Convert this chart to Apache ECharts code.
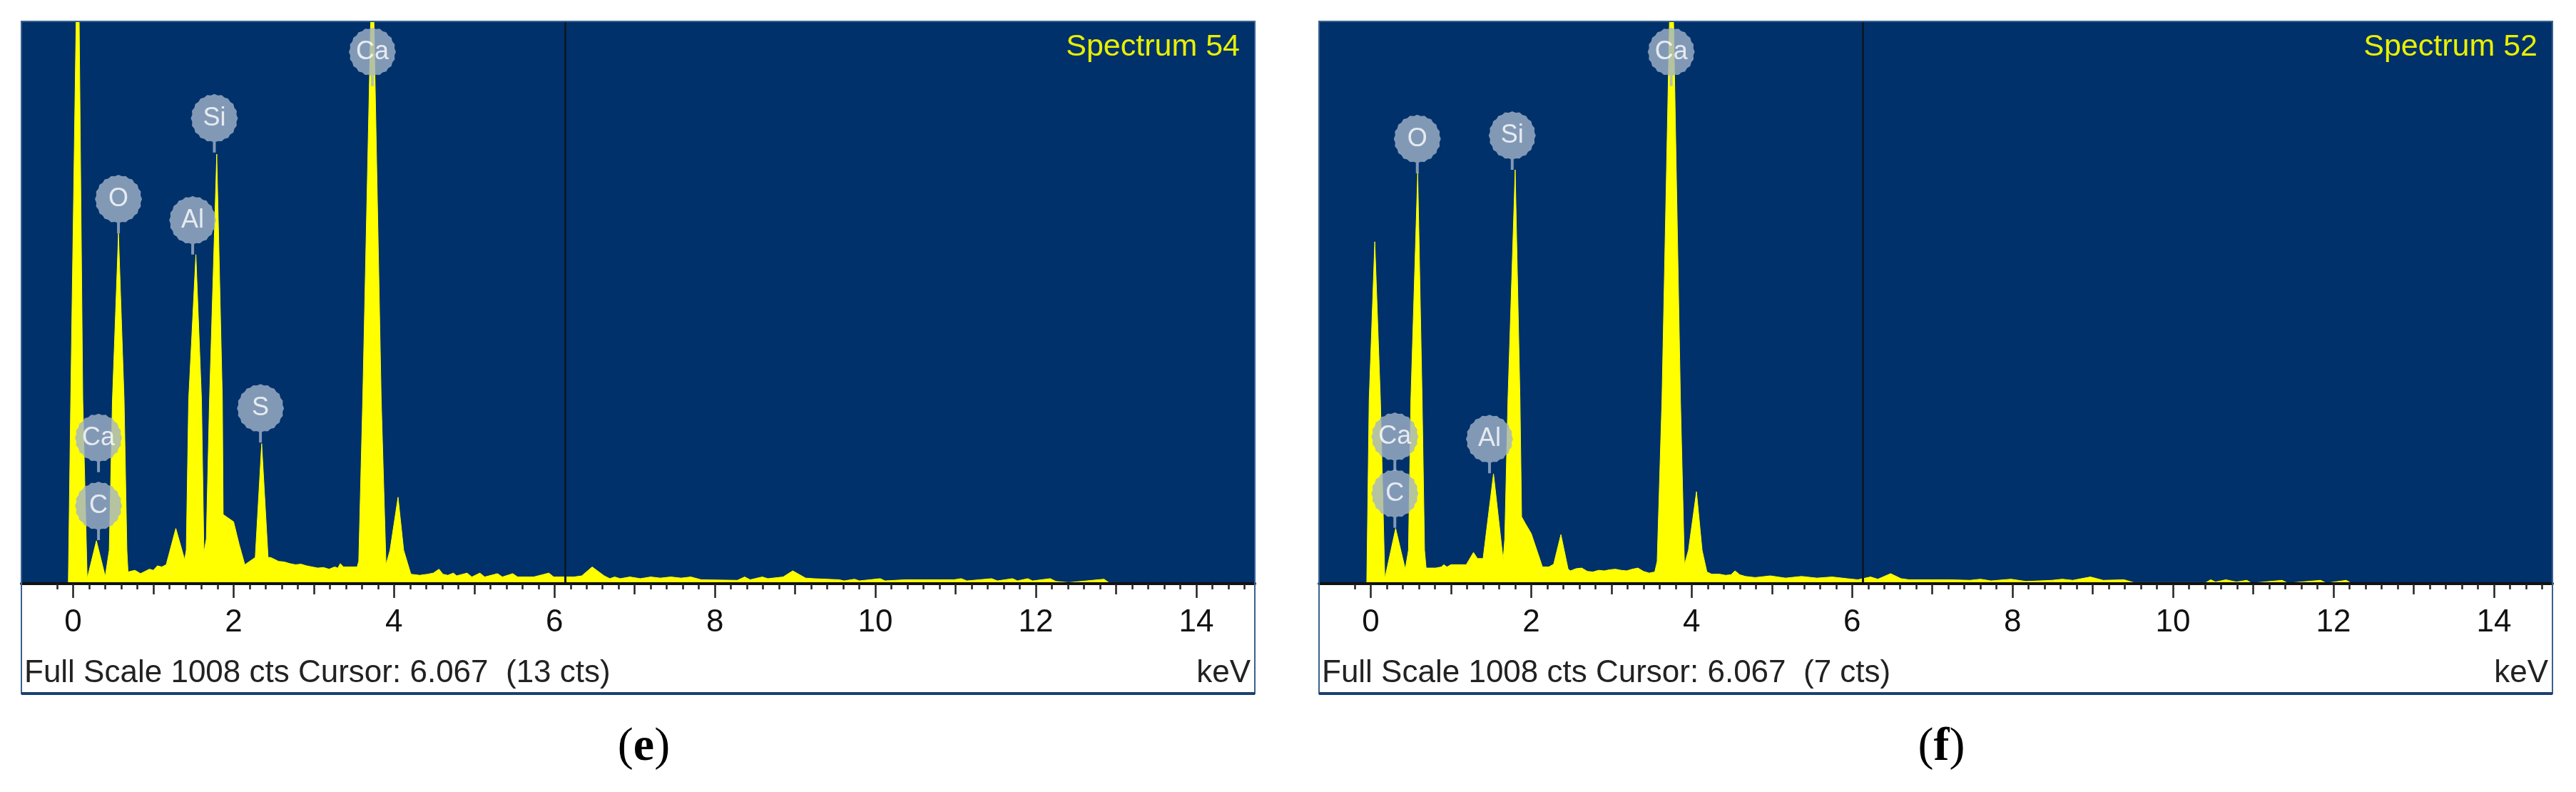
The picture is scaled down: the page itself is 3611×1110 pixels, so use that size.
<!DOCTYPE html>
<html>
<head>
<meta charset="utf-8">
<script src="https://cdn.jsdelivr.net/npm/echarts@6.0.0/dist/echarts.min.js"></script>
<style>
    html, body { margin: 0; padding: 0; background: #fff; }
    #main { width: 3611px; height: 1110px; }
</style>
</head>
<body>
<div id="main"></div>
<script>
// EDS spectra (e) Spectrum 54 / (f) Spectrum 52, x = keV, y = counts (full scale 1008)

var keVLabels = [0, 2, 4, 6, 8, 10, 12, 14];
var oddTicks = [1, 3, 5, 7, 9, 11, 13];
var cursorKeV = 6.13;

// spectrum (e)
var spectrumE = [
    [-0.645, 0], [-0.06, 0], [-0.03, 330], [0.06, 1240], [0.12, 330], [0.175, 9],
    [0.29, 77], [0.40, 13],
    [0.45, 60], [0.49, 330], [0.565, 628], [0.635, 330], [0.67, 60], [0.684, 21],
    [0.77, 24], [0.84, 18], [0.95, 26], [1.0, 24], [1.05, 32], [1.105, 30], [1.16, 34],
    [1.28, 99], [1.39, 43],
    [1.41, 60], [1.44, 330], [1.53, 590], [1.60, 330], [1.63, 56],
    [1.66, 80], [1.70, 330], [1.79, 770], [1.86, 330], [1.87, 124],
    [1.93, 118], [2.0, 111], [2.07, 70], [2.14, 34], [2.2, 40],
    [2.27, 47], [2.35, 251], [2.43, 47], [2.46, 47],
    [2.49, 45], [2.56, 40], [2.63, 39], [2.70, 36], [2.77, 34], [2.84, 35], [2.91, 32], [2.98, 30],
    [3.05, 28], [3.12, 29], [3.19, 26], [3.26, 30], [3.30, 28], [3.33, 36], [3.37, 30], [3.47, 30], [3.54, 30],
    [3.56, 40], [3.61, 330], [3.73, 1150], [3.84, 330], [3.90, 34],
    [3.95, 60], [4.05, 155], [4.12, 60], [4.21, 17],
    [4.32, 15], [4.42, 17], [4.49, 19], [4.56, 26], [4.61, 17], [4.67, 15], [4.74, 19], [4.78, 14],
    [4.91, 19], [4.97, 12], [5.07, 19], [5.13, 12], [5.29, 18], [5.35, 12], [5.48, 18], [5.54, 12],
    [5.74, 12], [5.93, 19], [5.99, 12], [6.24, 12], [6.34, 14], [6.47, 30], [6.62, 14], [6.69, 9],
    [6.75, 12], [6.82, 9], [6.94, 12], [7.07, 9], [7.2, 12], [7.32, 10], [7.45, 12], [7.58, 10],
    [7.7, 12], [7.83, 7], [8.28, 6], [8.37, 12], [8.44, 7], [8.59, 12], [8.66, 9], [8.85, 12],
    [8.97, 23], [9.13, 10], [9.23, 9], [9.55, 7], [9.61, 5], [9.74, 8], [9.8, 5], [10.06, 9],
    [10.12, 5], [10.37, 7], [10.88, 7], [10.98, 7], [11.07, 9], [11.14, 5], [11.45, 9], [11.52, 5],
    [11.71, 9], [11.77, 5], [11.9, 9], [11.96, 5], [12.18, 9], [12.25, 4], [12.41, 2], [12.85, 8],
    [12.91, 2], [14.73, 1]
];

// spectrum (f)
var spectrumF = [
    [-0.645, 0], [-0.05, 0], [-0.02, 330], [0.05, 613], [0.12, 330], [0.175, 9],
    [0.31, 99], [0.43, 26],
    [0.47, 60], [0.50, 330], [0.585, 738], [0.64, 330], [0.67, 60], [0.69, 28],
    [0.81, 28], [0.88, 30], [0.91, 34], [0.95, 30], [1.0, 34], [1.19, 34],
    [1.28, 56], [1.33, 45], [1.40, 45],
    [1.53, 197], [1.65, 43],
    [1.67, 80], [1.71, 330], [1.80, 742], [1.86, 330], [1.88, 120],
    [1.93, 107], [2.0, 90], [2.07, 60], [2.14, 30], [2.22, 30],
    [2.28, 35], [2.37, 88], [2.46, 26],
    [2.49, 23], [2.56, 27], [2.63, 28], [2.70, 22], [2.77, 21], [2.84, 24], [2.91, 23], [2.98, 25],
    [3.05, 26], [3.12, 24], [3.19, 23], [3.26, 26], [3.33, 28], [3.40, 22], [3.47, 19], [3.54, 21],
    [3.57, 40], [3.63, 330], [3.75, 1200], [3.86, 330], [3.91, 34],
    [3.96, 60], [4.06, 165], [4.13, 60], [4.19, 21],
    [4.25, 17], [4.35, 17], [4.42, 15], [4.49, 16], [4.54, 23], [4.6, 16], [4.67, 13], [4.79, 11],
    [4.98, 14], [5.17, 10], [5.37, 13], [5.56, 10], [5.75, 12], [5.94, 9], [6.07, 7], [6.23, 12],
    [6.32, 8], [6.48, 18], [6.61, 9], [6.71, 7], [7.22, 7], [7.47, 6], [7.6, 8], [7.73, 5],
    [7.98, 8], [8.17, 4], [8.49, 6], [8.62, 8], [8.75, 6], [8.97, 12], [9.13, 6], [9.39, 7],
    [9.51, 2], [10.41, 2], [10.47, 7], [10.53, 3], [10.66, 7], [10.79, 3], [10.92, 6], [10.98, 1],
    [11.36, 6], [11.43, 1], [11.84, 6], [11.91, 1], [12.16, 6], [12.22, 1], [14.73, 0]
];

// element markers: [symbol, keV, counts at stem foot]
var labelsE = [
    ['Ca', 3.73, 892], ['Si', 1.76, 773], ['O', 0.565, 628], ['Al', 1.49, 590],
    ['S', 2.335, 253], ['Ca', 0.316, 200], ['C', 0.316, 78]
];
var labelsF = [
    ['Ca', 3.745, 892], ['O', 0.58, 736], ['Si', 1.763, 742],
    ['Ca', 0.30, 202], ['C', 0.30, 100], ['Al', 1.48, 198]
];

var X_MIN = -0.645, X_MAX = 14.73, FULL_SCALE = 1008;
var BLUE = '#00316b', YELLOW = '#ffff00';

var minorTicks = [];
for (var t = -0.2; t < 14.7; t += 0.2) {
    minorTicks.push(Math.round(t * 10) / 10);
}

// round grey badge with a short stem under it
function badgePath() {
    var n = 40, cx = 33, cy = 34, d = '';
    for (var i = 0; i < n; i++) {
        var a = i / n * Math.PI * 2;
        var k = (i % 2 === 0) ? 0 : 1.6;
        var x = cx + (33 - k) * Math.sin(a);
        var y = cy - (34 - k) * Math.cos(a);
        d += (i === 0 ? 'M' : 'L') + x.toFixed(2) + ' ' + y.toFixed(2) + ' ';
    }
    d += 'Z M31 66 L35 66 L35 82 L31 82 Z';
    return 'path://' + d;
}
var BADGE = badgePath();

var panels = [
    {left: 30, width: 1729, data: spectrumE, labels: labelsE, title: 'Spectrum 54', cts: '13', tag: 'e'},
    {left: 1849, width: 1729, data: spectrumF, labels: labelsF, title: 'Spectrum 52', cts: '7', tag: 'f'}
];

var grid = [], xAxis = [], yAxis = [], series = [], graphic = [];

// every panel = 3 stacked grids, each with one bottom axis:
// 0.2 keV ticks (+ line, labels), odd keV ticks, even keV ticks
var tickSets = [
    {values: minorTicks, len: 8, line: true, label: true},
    {values: oddTicks, len: 15, line: false, label: false},
    {values: keVLabels, len: 20, line: false, label: false}
];

panels.forEach(function (p, i) {
    tickSets.forEach(function (ts, k) {
        var g = 3 * i + k;
        grid.push({
            left: p.left, top: 30, width: p.width, height: 788,
            show: k === 0, backgroundColor: BLUE, borderWidth: 0
        });
        xAxis.push({
            gridIndex: g, type: 'value', position: 'bottom',
            min: X_MIN, max: X_MAX, z: 5,
            axisLine: {show: ts.line, onZero: false, lineStyle: {color: '#111', width: 4}},
            axisTick: {show: true, customValues: ts.values, length: ts.len, lineStyle: {color: '#222', width: 2.5}},
            axisLabel: {
                show: ts.label, customValues: keVLabels, margin: 33,
                fontSize: 44, color: '#111', fontFamily: 'Liberation Sans'
            },
            splitLine: {show: false}
        });
        yAxis.push({gridIndex: g, type: 'value', min: 0, max: FULL_SCALE, show: false});
    });

    series.push({
        type: 'line', xAxisIndex: 3 * i, yAxisIndex: 3 * i,
        data: p.data, symbol: 'none', clip: true,
        lineStyle: {color: YELLOW, width: 1},
        areaStyle: {color: YELLOW, opacity: 1},
        markLine: {
            silent: true, symbol: 'none', label: {show: false},
            lineStyle: {color: '#0b1a2a', width: 3, type: 'solid'},
            data: [{xAxis: cursorKeV}]
        }
    });
    series.push({
        type: 'scatter', xAxisIndex: 3 * i, yAxisIndex: 3 * i, z: 10,
        data: p.labels.map(function (l) {
            return {name: l[0], value: [l[1], l[2]]};
        }),
        symbol: BADGE, symbolSize: [66, 82], symbolOffset: [0, '-50%'],
        itemStyle: {color: '#a3b4c9'},
        label: {
            show: true, position: 'inside', offset: [0, -7], formatter: '{b}',
            color: '#fff', fontSize: 36, fontFamily: 'Liberation Sans'
        }
    });

    var right = p.left + p.width;
    graphic.push({
        type: 'text', x: right - 21, y: 66, z: 50,
        style: {
            text: p.title, fill: '#e8f000', fontSize: 43,
            fontFamily: 'Liberation Sans',
            align: 'right', verticalAlign: 'middle'
        }
    });
    graphic.push({
        type: 'text', x: p.left + 4, y: 944, z: 50,
        style: {
            text: 'Full Scale 1008 cts Cursor: 6.067  (' + p.cts + ' cts)', fill: '#222',
            fontSize: 44, fontFamily: 'Liberation Sans', align: 'left', verticalAlign: 'middle'
        }
    });
    graphic.push({
        type: 'text', x: right - 6, y: 944, z: 50,
        style: {
            text: 'keV', fill: '#222', fontSize: 44, fontFamily: 'Liberation Sans',
            align: 'right', verticalAlign: 'middle'
        }
    });
    graphic.push({
        type: 'rect', z: 40,
        shape: {x: p.left, y: 30, width: p.width, height: 942},
        style: {fill: null, stroke: '#3a6190', lineWidth: 2}
    });
    graphic.push({
        type: 'line', z: 41,
        shape: {x1: p.left, y1: 972, x2: right, y2: 972},
        style: {stroke: '#1b3f70', lineWidth: 4}
    });
    graphic.push({
        type: 'text', x: p.left + p.width / 2 + 8, y: 1048, z: 50,
        style: {
            text: '{p|(}{b|' + p.tag + '}{p|)}',
            align: 'center', verticalAlign: 'middle',
            rich: {
                p: {fontSize: 66, fontFamily: 'Liberation Serif', fill: '#000'},
                b: {fontSize: 66, fontFamily: 'Liberation Serif', fontWeight: 'bold', fill: '#000'}
            }
        }
    });
});

var myChart = echarts.init(document.getElementById('main'));
myChart.setOption({
    animation: false,
    backgroundColor: '#fff',
    grid: grid,
    xAxis: xAxis,
    yAxis: yAxis,
    series: series,
    graphic: graphic
});
</script>
</body>
</html>
